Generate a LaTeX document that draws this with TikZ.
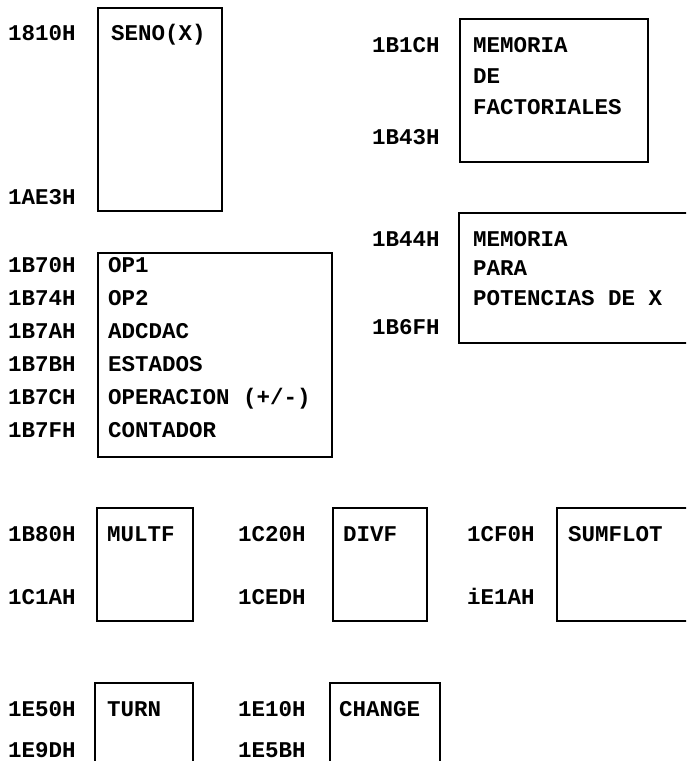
\documentclass[tikz,border=0pt]{standalone}
\usepackage{fontspec}
\setmainfont{Liberation Mono}
\begin{document}
\begin{tikzpicture}[x=1pt,y=-1pt,
  lab/.style={font=\bfseries\fontsize{22.5}{24}\selectfont, anchor=west, inner sep=0pt, text height=15pt, text depth=0pt},
  box/.style={draw=black, line width=1.6pt}]
\useasboundingbox (0,0) rectangle (686,761);
\clip (0,0) rectangle (686,761);
\fill[white] (0,0) rectangle (686,761);
% boxes
\draw[box] (98,8) rectangle (222,211);
\draw[box] (460,19) rectangle (648,162);
\draw[box] (700,213) -- (459,213) -- (459,343) -- (700,343);
\draw[box] (98,253) rectangle (332,457);
\draw[box] (97,508) rectangle (193,621);
\draw[box] (333,508) rectangle (427,621);
\draw[box] (700,508) -- (557,508) -- (557,621) -- (700,621);
\draw[box] (95,775) -- (95,683) -- (193,683) -- (193,775);
\draw[box] (330,775) -- (330,683) -- (440,683) -- (440,775);
% address labels
\node[lab] (a1) at (8,33) {1810H};
\node[lab] (a2) at (8,197) {1AE3H};
\node[lab] (a3) at (8,265) {1B70H};
\node[lab] (a4) at (8,298) {1B74H};
\node[lab] (a5) at (8,331) {1B7AH};
\node[lab] (a6) at (8,364) {1B7BH};
\node[lab] (a7) at (8,397) {1B7CH};
\node[lab] (a8) at (8,430) {1B7FH};
\node[lab] (a9) at (8,534) {1B80H};
\node[lab] (a10) at (8,597) {1C1AH};
\node[lab] (a11) at (8,709) {1E50H};
\node[lab] (a12) at (8,750) {1E9DH};
\node[lab] (b1) at (238,534) {1C20H};
\node[lab] (b2) at (238,597) {1CEDH};
\node[lab] (b3) at (238,709) {1E10H};
\node[lab] (b4) at (238,750) {1E5BH};
\node[lab] (c1) at (467,534) {1CF0H};
\node[lab] (c2) at (467,597) {iE1AH};
\node[lab] (d1) at (372,45) {1B1CH};
\node[lab] (d2) at (372,137) {1B43H};
\node[lab] (d3) at (372,239) {1B44H};
\node[lab] (d4) at (372,327) {1B6FH};
% box contents
\node[lab] (t1) at (111,33) {SENO(X)};
\node[lab] (t2) at (473,45) {MEMORIA};
\node[lab] (t3) at (473,76) {DE};
\node[lab] (t4) at (473,107) {FACTORIALES};
\node[lab] (t5) at (473,239) {MEMORIA};
\node[lab] (t6) at (473,268) {PARA};
\node[lab] (t7) at (473,298) {POTENCIAS DE X};
\node[lab] (t8) at (108,265) {OP1};
\node[lab] (t9) at (108,298) {OP2};
\node[lab] (t10) at (108,331) {ADCDAC};
\node[lab] (t11) at (108,364) {ESTADOS};
\node[lab] (t12) at (108,397) {OPERACION (+/-)};
\node[lab] (t13) at (108,430) {CONTADOR};
\node[lab] (t14) at (107,534) {MULTF};
\node[lab] (t15) at (343,534) {DIVF};
\node[lab] (t16) at (568,534) {SUMFLOT};
\node[lab] (t17) at (107,709) {TURN};
\node[lab] (t18) at (339,709) {CHANGE};
\end{tikzpicture}
\end{document}
